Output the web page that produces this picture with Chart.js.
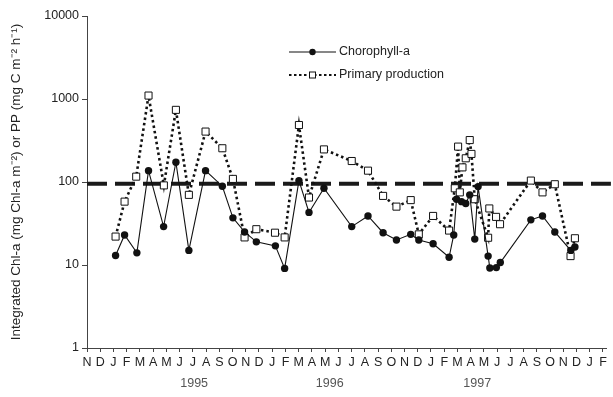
<!DOCTYPE html>
<html>
<head>
<meta charset="utf-8">
<script src="https://cdn.jsdelivr.net/npm/chart.js@4.4.1/dist/chart.umd.min.js"></script>
<style>
  html, body { margin: 0; padding: 0; background: #ffffff; }
  #wrap { width: 613px; height: 397px; position: relative; }
</style>
</head>
<body>
<div id="wrap"><canvas id="c" width="613" height="397"></canvas></div>
<script>
// Month axis: index 0 = November 1994, one step per month
const monthLetters = ['N','D','J','F','M','A','M','J','J','A','S','O',
                      'N','D','J','F','M','A','M','J','J','A','S','O',
                      'N','D','J','F','M','A','M','J','J','A','S','O',
                      'N','D','J','F'];
const yearLabels = ['1995', '1996', '1997'];
const yearPositions = [8.1, 18.35, 29.5];

const yTickValues = [1, 10, 100, 1000, 10000];

// Integrated chlorophyll-a (mg Chl-a m-2)
const chlMonths = [2.16, 2.84, 3.77, 4.65, 5.79, 6.72, 7.70, 8.96, 10.23, 11.03,
                   11.91, 12.80, 14.24, 14.94, 16.02, 16.78, 17.91, 20.01, 21.24, 22.38,
                   23.39, 24.47, 25.08, 26.16, 27.37, 27.72, 27.93, 28.31, 28.63, 28.93,
                   29.31, 29.56, 30.32, 30.45, 30.94, 31.24, 33.55, 34.43, 35.36, 36.57,
                   36.88];
const chlValues = [13, 23, 14, 137, 29, 173, 15, 137, 89, 37,
                   25, 19, 17, 9.1, 104, 43, 84, 29, 39, 24.5,
                   20, 23.4, 20, 18, 12.4, 23, 62, 58, 55, 70,
                   20.5, 88, 12.8, 9.2, 9.3, 10.7, 35, 39, 25, 15,
                   16.5];

// Integrated primary production (mg C m-2 h-1)
const ppMonths = [2.16, 2.84, 3.72, 4.65, 5.81, 6.72, 7.70, 8.96, 10.23, 11.03,
                  11.91, 12.80, 14.21, 14.94, 16.02, 16.78, 17.91, 20.01, 21.24, 22.38,
                  23.39, 24.47, 25.08, 26.16, 27.37, 27.80, 28.05, 28.18, 28.38, 28.63,
                  28.93, 29.06, 29.31, 30.32, 30.41, 30.92, 31.22, 33.55, 34.43, 35.36,
                  36.55, 36.88];
const ppValues = [22, 58, 116, 1100, 91, 740, 70, 405, 255, 109,
                  21.5, 27, 24.5, 21.5, 486, 65, 247, 179, 137, 68,
                  50.5, 60.5, 23.4, 39, 26, 84, 267, 75, 150, 193,
                  320, 218, 62, 21.3, 48, 38, 31, 104, 75, 94,
                  12.8, 21];

// Horizontal reference level
const thresholdValue = 95;
const thresholdSpan = [0, 39.6];

const FONT = "'Liberation Sans', Arial, Helvetica, sans-serif";
const INK = '#111111';

const toPoints = (xs, ys) => xs.map((x, i) => ({ x: x, y: ys[i] }));

// Year captions under the month letters
const yearCaptions = {
  id: 'yearCaptions',
  afterDraw(chart) {
    const ctx = chart.ctx;
    const xs = chart.scales.x;
    ctx.save();
    ctx.font = '12.5px ' + FONT;
    ctx.fillStyle = '#555555';
    ctx.textAlign = 'center';
    ctx.textBaseline = 'middle';
    yearLabels.forEach((t, i) => {
      ctx.fillText(t, xs.getPixelForValue(yearPositions[i]), 384);
    });
    ctx.restore();
  }
};

// Series key: line sample with its marker in the middle, then the label
const seriesKey = {
  id: 'seriesKey',
  afterDraw(chart) {
    const ctx = chart.ctx;
    const rows = [0, 1];
    const rowY = [52, 75];
    const x0 = 289, x1 = 336, xm = 312.5, tx = 339;
    ctx.save();
    rows.forEach((di, r) => {
      const ds = chart.data.datasets[di];
      const y = rowY[r];
      ctx.strokeStyle = ds.borderColor;
      ctx.lineWidth = di === 1 ? 2 : ds.borderWidth;
      ctx.setLineDash(di === 1 ? [2.5, 2.5] : []);
      ctx.beginPath();
      ctx.moveTo(x0, y);
      ctx.lineTo(x1, y);
      ctx.stroke();
      ctx.setLineDash([]);
      ctx.lineWidth = 1;
      if (ds.pointStyle === 'rect') {
        const s = 3;
        ctx.fillStyle = '#ffffff';
        ctx.fillRect(xm - s, y - s, 2 * s, 2 * s);
        ctx.strokeRect(xm - s, y - s, 2 * s, 2 * s);
      } else {
        ctx.fillStyle = ds.pointBackgroundColor;
        ctx.beginPath();
        ctx.arc(xm, y, 3.2, 0, Math.PI * 2);
        ctx.fill();
      }
      ctx.fillStyle = '#222222';
      ctx.font = '12.5px ' + FONT;
      ctx.textAlign = 'left';
      ctx.textBaseline = 'middle';
      ctx.fillText(ds.label, tx, y);
    });
    ctx.restore();
  }
};

new Chart(document.getElementById('c'), {
  type: 'line',
  data: {
    datasets: [
      {
        label: 'Chorophyll-a',
        data: toPoints(chlMonths, chlValues),
        borderColor: INK,
        borderWidth: 1.1,
        pointStyle: 'circle',
        pointRadius: 3.7,
        pointBackgroundColor: INK,
        pointBorderColor: INK,
        pointBorderWidth: 0,
        tension: 0,
        order: 1
      },
      {
        label: 'Primary production',
        data: toPoints(ppMonths, ppValues),
        borderColor: INK,
        borderWidth: 2.6,
        borderDash: [2.5, 3],
        pointStyle: 'rect',
        pointRadius: 5,
        pointBackgroundColor: '#ffffff',
        pointBorderColor: INK,
        pointBorderWidth: 1,
        tension: 0,
        order: 2
      },
      {
        label: 'Reference level',
        data: thresholdSpan.map(x => ({ x: x, y: thresholdValue })),
        borderColor: '#1a1a1a',
        borderWidth: 4,
        borderDash: [20, 8],
        pointRadius: 0,
        clip: false,
        order: 3
      }
    ]
  },
  options: {
    responsive: false,
    animation: false,
    devicePixelRatio: 1,
    layout: { padding: { top: 16, right: 7, left: 0, bottom: 0 } },
    plugins: {
      legend: { display: false },
      tooltip: { enabled: false }
    },
    scales: {
      x: {
        type: 'linear',
        min: 0,
        max: 39.23,
        afterBuildTicks: (axis) => { axis.ticks = monthLetters.map((_, i) => ({ value: i })); },
        afterFit: (axis) => { axis.height = 49; },
        grid: { display: true, drawOnChartArea: false, drawTicks: true, tickLength: 4, color: '#444444' },
        border: { display: true, color: '#444444', width: 1 },
        ticks: {
          autoSkip: false,
          maxRotation: 0,
          padding: 3,
          color: '#222222',
          font: { family: FONT, size: 12.5 },
          callback: (v) => monthLetters[v]
        }
      },
      y: {
        type: 'logarithmic',
        min: 1,
        max: 10000,
        afterBuildTicks: (axis) => { axis.ticks = yTickValues.map(v => ({ value: v })); },
        afterFit: (axis) => { axis.width = 87; },
        grid: { display: true, drawOnChartArea: false, drawTicks: true, tickLength: 5, color: '#444444' },
        border: { display: true, color: '#444444', width: 1 },
        ticks: {
          padding: 3,
          color: '#222222',
          font: { family: FONT, size: 12.5 },
          callback: (v) => String(v)
        },
        title: {
          display: true,
          text: 'Integrated Chl-a (mg Chl-a m\u207B\u00B2) or PP (mg C m\u207B\u00B2 h\u207B\u00B9)',
          color: '#222222',
          font: { family: FONT, size: 13.5 },
          padding: { top: 8, bottom: 0 }
        }
      }
    }
  },
  plugins: [yearCaptions, seriesKey]
});
</script>
</body>
</html>
